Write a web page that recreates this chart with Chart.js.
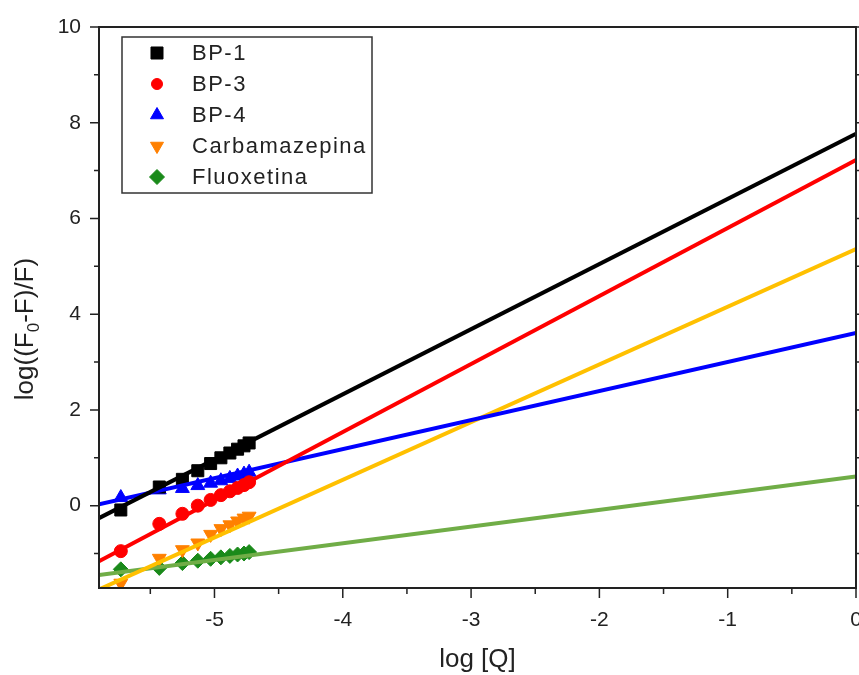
<!DOCTYPE html>
<html>
<head>
<meta charset="utf-8">
<script src="https://cdn.jsdelivr.net/npm/chart.js@4.4.1/dist/chart.umd.min.js"></script>
<style>
  html, body { margin: 0; padding: 0; background: #fff; overflow: hidden; }
  /* a little wider than the window so the "0" label is cut at the edge like the original */
  #wrap { width: 870px; height: 675px; }
</style>
</head>
<body>
<div id="wrap"><canvas id="chart"></canvas></div>
<script>
// measured points (log[Q] vs log((F0-F)/F))
const logQ = [-5.73, -5.43, -5.25, -5.13, -5.03, -4.95, -4.88, -4.82, -4.77, -4.73];
const bp1 = [-0.09, 0.39, 0.55, 0.73, 0.88, 1.0, 1.1, 1.18, 1.25, 1.31];
const bp3 = [-0.95, -0.38, -0.17, 0.0, 0.12, 0.22, 0.3, 0.37, 0.43, 0.49];
const bp4 = [0.17, 0.33, 0.36, 0.42, 0.47, 0.52, 0.57, 0.62, 0.66, 0.7];
const carba = [-1.62, -1.1, -0.92, -0.78, -0.6, -0.48, -0.4, -0.32, -0.26, -0.22];
const fluox = [-1.33, -1.3, -1.2, -1.15, -1.11, -1.08, -1.05, -1.02, -1.0, -0.97];

// fitted lines, endpoints read at the plot edges
const fitX = [-5.9, 0];
const fitBp1 = [-0.26, 7.77];
const fitBp3 = [-1.16, 7.22];
const fitBp4 = [0.03, 3.61];
const fitCarba = [-1.75, 5.36];
const fitFluox = [-1.45, 0.61];

const seriesNames = ['BP-1', 'BP-3', 'BP-4', 'Carbamazepina', 'Fluoxetina'];
const markerColors = ['#000000', '#ff0000', '#0000ff', '#ff8000', '#1a8a1a'];
const lineColors = ['#000000', '#ff0000', '#0000ff', '#ffc000', '#70ad47'];
const markerStyles = ['rect', 'circle', 'triangle', 'triangle', 'rectRot'];
const markerRot = [0, 0, 0, 180, 0];
const markerSize = [8.5, 6.5, 8, 8, 7.5];
const legendSize = [8.5, 5.5, 7.5, 7.5, 7.5];

const pointSeries = [bp1, bp3, bp4, carba, fluox];
const fitSeries = [fitBp1, fitBp3, fitBp4, fitCarba, fitFluox];

const fontFamily = '"Liberation Sans", Arial, sans-serif';

const toXY = (xs, ys) => xs.map((x, i) => ({ x: x, y: ys[i] }));

const datasets = [];
fitSeries.forEach((ys, i) => {
    datasets.push({
        label: 'fit ' + seriesNames[i],
        data: toXY(fitX, ys),
        showLine: true,
        borderColor: lineColors[i],
        borderWidth: 4,
        pointRadius: 0,
        order: 0
    });
});
pointSeries.forEach((ys, i) => {
    datasets.push({
        label: seriesNames[i],
        data: toXY(logQ, ys),
        showLine: false,
        backgroundColor: markerColors[i],
        borderColor: markerColors[i],
        borderWidth: 1,
        pointStyle: markerStyles[i],
        rotation: markerRot[i],
        pointRadius: markerSize[i],
        order: 1
    });
});

// frame, tick marks, y title with subscript and the boxed legend
const framePlugin = {
    id: 'frame',
    afterDraw(chart) {
        const ctx = chart.ctx;
        const a = chart.chartArea;
        const xs = chart.scales.x;
        const ys = chart.scales.y;
        ctx.save();
        ctx.strokeStyle = '#222';
        ctx.lineWidth = 2;
        ctx.strokeRect(a.left, a.top, a.right - a.left, a.bottom - a.top);

        ctx.lineWidth = 1.5;
        ctx.beginPath();
        xs.ticks.forEach(t => {
            const px = xs.getPixelForValue(t.value);
            const len = Number.isInteger(t.value) ? 10 : 6;
            ctx.moveTo(px, a.bottom);
            ctx.lineTo(px, a.bottom + len);
        });
        ys.ticks.forEach(t => {
            const py = ys.getPixelForValue(t.value);
            const len = t.value % 2 === 0 ? 9 : 5;
            ctx.moveTo(a.left - len, py);
            ctx.lineTo(a.left, py);
            ctx.moveTo(a.right, py);
            ctx.lineTo(a.right + len, py);
        });
        ctx.stroke();

        // y title, drawn by hand for the lowered "0"
        ctx.save();
        ctx.translate(33, 329);
        ctx.rotate(-Math.PI / 2);
        ctx.fillStyle = '#222';
        ctx.textBaseline = 'alphabetic';
        const partA = 'log((F', sub = '0', partB = '-F)/F)';
        ctx.font = '26px ' + fontFamily;
        const wA = ctx.measureText(partA).width;
        const wB = ctx.measureText(partB).width;
        ctx.font = '17px ' + fontFamily;
        const wS = ctx.measureText(sub).width;
        let cx = -(wA + wS + wB) / 2;
        ctx.font = '26px ' + fontFamily;
        ctx.fillText(partA, cx, 0);
        cx += wA;
        ctx.font = '17px ' + fontFamily;
        ctx.fillText(sub, cx, 6);
        cx += wS;
        ctx.font = '26px ' + fontFamily;
        ctx.fillText(partB, cx, 0);
        ctx.restore();

        // legend
        const bx = 122, by = 37, bw = 250, bh = 156;
        ctx.fillStyle = '#fff';
        ctx.fillRect(bx, by, bw, bh);
        ctx.lineWidth = 1.5;
        ctx.strokeStyle = '#333';
        ctx.strokeRect(bx, by, bw, bh);
        ctx.font = '22px ' + fontFamily;
        ctx.letterSpacing = '1.5px';
        ctx.textBaseline = 'middle';
        seriesNames.forEach((name, i) => {
            const yy = by + 16 + i * 31;
            ctx.fillStyle = markerColors[i];
            ctx.strokeStyle = markerColors[i];
            ctx.lineWidth = 1;
            Chart.helpers.drawPoint(ctx, {
                pointStyle: markerStyles[i],
                radius: legendSize[i],
                rotation: markerRot[i],
                borderWidth: 1
            }, 157, yy);
            ctx.fillStyle = '#222';
            ctx.fillText(name, 192, yy + 1);
        });
        ctx.restore();
    }
};

const tickFont = { family: fontFamily, size: 21 };

new Chart(document.getElementById('chart'), {
    type: 'scatter',
    data: { datasets: datasets },
    plugins: [framePlugin],
    options: {
        responsive: true,
        maintainAspectRatio: false,
        animation: false,
        layout: { padding: { top: 27, right: 14, left: 0, bottom: 0 } },
        plugins: {
            legend: { display: false },
            tooltip: { enabled: false }
        },
        scales: {
            x: {
                type: 'linear',
                min: -5.9,
                max: 0,
                grid: { display: false, drawTicks: false },
                border: { display: false },
                ticks: {
                    stepSize: 0.5,
                    includeBounds: false,
                    autoSkip: false,
                    maxRotation: 0,
                    padding: 20,
                    color: '#222',
                    font: tickFont,
                    callback: v => Number.isInteger(v) ? String(v) : ''
                },
                title: {
                    display: true,
                    text: 'log [Q]',
                    color: '#222',
                    font: { family: fontFamily, size: 26 },
                    padding: { top: 0, bottom: 0 }
                },
                afterFit(scale) {
                    scale.height = 87;
                    scale.paddingLeft = 0;
                    scale.paddingRight = 0;
                }
            },
            y: {
                type: 'linear',
                min: -1.72,
                max: 10,
                grid: { display: false, drawTicks: false },
                border: { display: false },
                ticks: {
                    stepSize: 1,
                    includeBounds: false,
                    autoSkip: false,
                    padding: 18,
                    color: '#222',
                    font: tickFont,
                    callback: v => v % 2 === 0 ? String(v) : ''
                },
                afterFit(scale) {
                    scale.width = 99;
                    scale.paddingTop = 0;
                    scale.paddingBottom = 0;
                }
            }
        }
    }
});
</script>
</body>
</html>
